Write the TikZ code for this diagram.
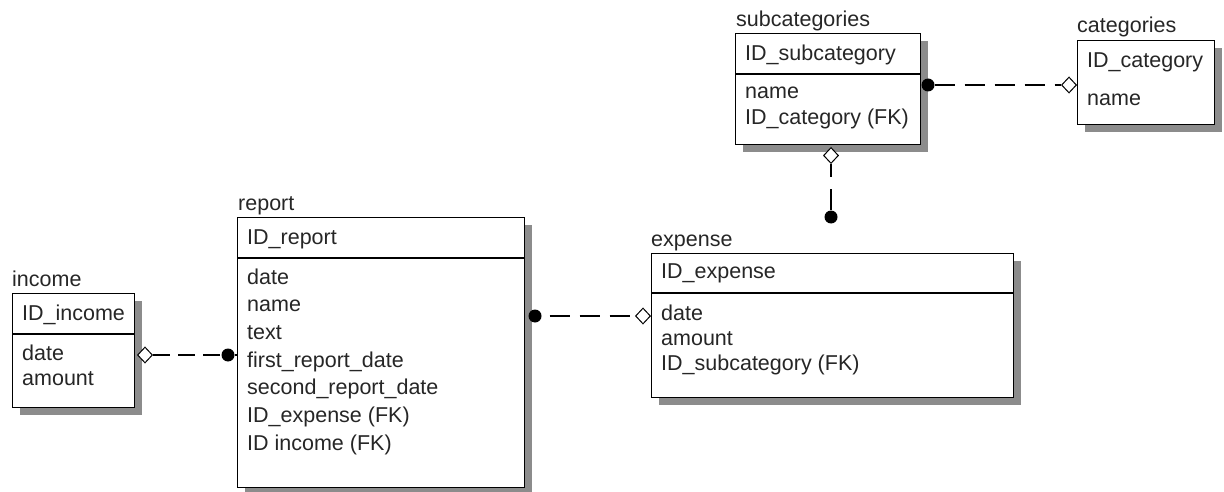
\documentclass[tikz,border=0pt]{standalone}
\usepackage{fontspec}
\setmainfont{Liberation Sans}
\usetikzlibrary{shapes.geometric,shadows}
\tikzset{
  ent/.style={draw, line width=1.3pt, fill=white, anchor=north west, inner sep=0pt,
    drop shadow={shadow xshift=7pt, shadow yshift=-7pt, fill=black!45, opacity=1}},
  txt/.style={anchor=west, inner sep=0pt, text height=15.5pt, text depth=4.5pt,
    font=\fontsize{21.5}{25}\selectfont, text=black!85},
  div/.style={line width=1.3pt},
  conn/.style={line width=1.2pt, dash pattern=on 20pt off 10pt},
  dotend/.style={circle, fill=black, inner sep=0pt, minimum size=13pt},
  dia/.style={diamond, draw, fill=white, line width=1pt, inner sep=0pt, minimum width=15pt, minimum height=16pt},
}
\begin{document}
\begin{tikzpicture}[x=1pt, y=-1pt]
\useasboundingbox (0,0) rectangle (1224,492);

% ---------- entities ----------
\node[ent, minimum width=122pt, minimum height=114pt] (income) at (12,293) {};
\node[ent, minimum width=287pt, minimum height=270pt] (report) at (237,217) {};
\node[ent, minimum width=362pt, minimum height=144pt] (expense) at (651,253) {};
\node[ent, minimum width=185pt, minimum height=111pt] (subcat) at (735,33) {};
\node[ent, minimum width=137pt, minimum height=84pt] (cat) at (1077,40) {};

% dividers
\draw[div] ([yshift=-41pt]income.north west) -- ([yshift=-41pt]income.north east);
\draw[div] ([yshift=-41pt]report.north west) -- ([yshift=-41pt]report.north east);
\draw[div] ([yshift=-40pt]expense.north west) -- ([yshift=-40pt]expense.north east);
\draw[div] ([yshift=-41pt]subcat.north west) -- ([yshift=-41pt]subcat.north east);

% ---------- labels ----------
\node[txt] (l-income) at (12,281) {income};
\node[txt] (l-report) at (238,205) {report};
\node[txt] (l-expense) at (651,241) {expense};
\node[txt] (l-subcat) at (736,21) {subcategories};
\node[txt] (l-cat) at (1077,27) {categories};

% ---------- income ----------
\node[txt] (i1) at (22,315) {ID\_income};
\node[txt] (i2) at (22,355) {date};
\node[txt] (i3) at (22,380) {amount};

% ---------- report ----------
\node[txt] (r0) at (247,239) {ID\_report};
\node[txt] (r1) at (247,279) {date};
\node[txt] (r2) at (247,306) {name};
\node[txt] (r3) at (247,334) {text};
\node[txt] (r4) at (247,362) {first\_report\_date};
\node[txt] (r5) at (247,389) {second\_report\_date};
\node[txt] (r6) at (247,417) {ID\_expense (FK)};
\node[txt] (r7) at (247,445) {ID income (FK)};

% ---------- expense ----------
\node[txt] (e0) at (661,273) {ID\_expense};
\node[txt] (e1) at (661,315) {date};
\node[txt] (e2) at (661,340) {amount};
\node[txt] (e3) at (661,365) {ID\_subcategory (FK)};

% ---------- subcategories ----------
\node[txt] (s0) at (745,55) {ID\_subcategory};
\node[txt] (s1) at (745,93) {name};
\node[txt] (s2) at (745,119) {ID\_category (FK)};

% ---------- categories ----------
\node[txt] (c0) at (1087,62) {ID\_category};
\node[txt] (c1) at (1087,100) {name};

% ---------- connectors ----------
% income - report
\node[dia, anchor=west] (m1) at (137,355) {};
\node[dotend] (d1) at (228,355) {};
\draw[line width=1.2pt, dash pattern=on 17pt off 8pt] (m1) -- (d1);
\draw[line width=1.2pt] (d1) -- (report.west |- d1);

% report - expense
\node[dotend] (d2) at (535,316) {};
\node[dia, anchor=east] (m2) at (651,316) {};
\draw[conn, dash phase=-8pt] (d2) -- (m2);

% subcategories - categories
\node[dotend] (d3) at (928,85) {};
\node[dia, anchor=east] (m3) at (1077,85) {};
\draw[conn] (d3) -- (m3);

% subcategories - expense (vertical)
\node[dia, anchor=north] (m4) at (831,147) {};
\node[dotend] (d4) at (831,217) {};
\draw[line width=1.2pt, dash pattern=on 13pt off 12pt on 40pt off 0pt] (m4) -- (d4);
\end{tikzpicture}
\end{document}
